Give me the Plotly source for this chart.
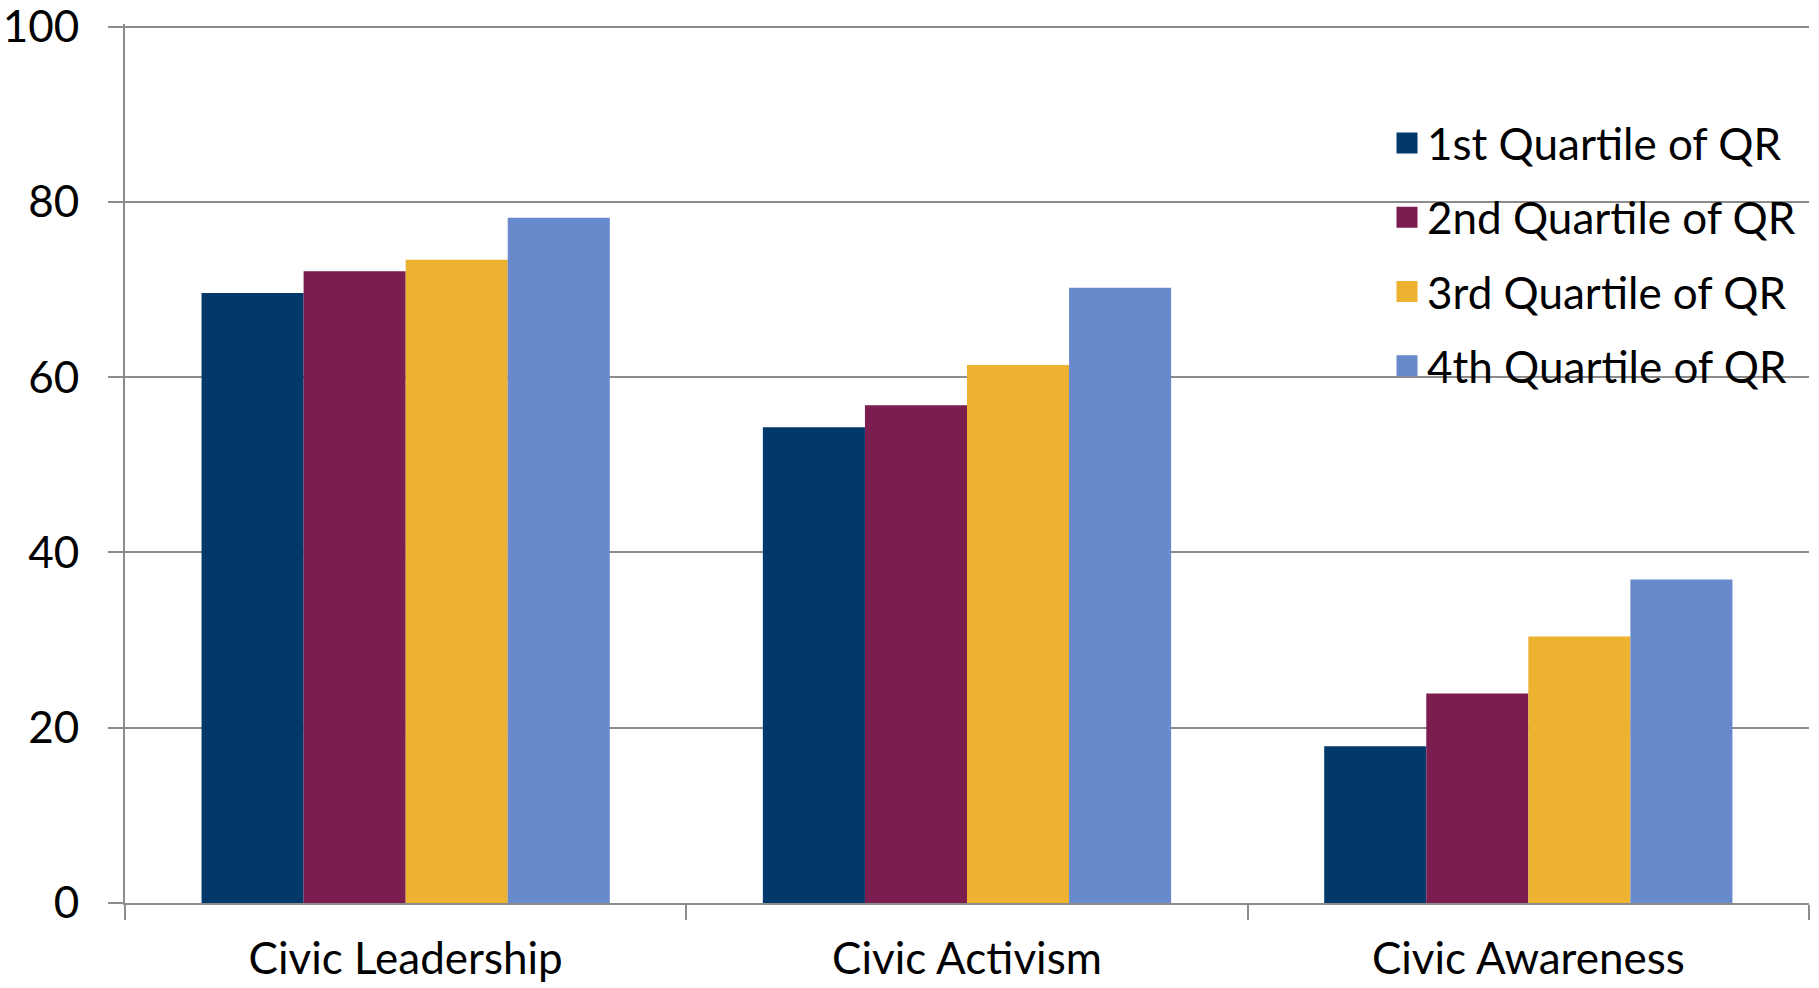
import plotly.graph_objects as go

categories = ["Civic Leadership", "Civic Activism", "Civic Awareness"]
series_names = ["1st Quartile of QR", "2nd Quartile of QR", "3rd Quartile of QR", "4th Quartile of QR"]
q1 = [69.6, 54.3, 17.9]
q2 = [72.1, 56.8, 23.9]
q3 = [73.4, 61.4, 30.4]
q4 = [78.2, 70.2, 36.9]
y_ticks = [0, 20, 40, 60, 80, 100]

colors = ["#03386A", "#7C1D4F", "#EDB22F", "#6889CB"]
series_values = [q1, q2, q3, q4]

FONT = "Lato"
FS = 44
GRID = "#8c8c8c"

fig = go.Figure()
for name, vals, col in zip(series_names, series_values, colors):
    fig.add_trace(go.Bar(x=categories, y=vals, name=name, marker=dict(color=col, line=dict(width=0)),
                         showlegend=False))
for i, (name, col) in enumerate(zip(series_names, colors)):
    fig.add_trace(go.Scatter(x=[None], y=[None], mode="markers", name=name, legendgroup=f"g{i}",
                             marker=dict(symbol="square", size=16, color=col, line=dict(width=5, color=col)),
                             showlegend=True))

W, H = 1819, 988
YMAX = 100.3
L, R, T, B = 125, 10, 24, 85
pw = W - L - R
ph = H - T - B

fig.update_layout(
    width=W, height=H,
    margin=dict(l=L, r=R, t=T, b=B, pad=0, autoexpand=False),
    paper_bgcolor="white", plot_bgcolor="white",
    barmode="group", bargap=0.2727, bargroupgap=0,
    font=dict(family=FONT, size=FS, color="black"),
    legend=dict(
        x=(1387 - L) / pw, y=(H - B - 108) / ph, xanchor="left", yanchor="top",
        bgcolor="rgba(0,0,0,0)", borderwidth=0, itemsizing="trace",
        tracegroupgap=14, font=dict(family=FONT, size=FS, color="black"),
    ),
    xaxis=dict(
        type="category", showline=True, linecolor=GRID, linewidth=2,
        ticks="outside", tickson="boundaries", ticklen=15, tickwidth=2, tickcolor=GRID,
        showgrid=False, tickfont=dict(family=FONT, size=FS, color="black"),
        ticklabelstandoff=16, automargin=False, ticklabeloverflow="allow",
    ),
    yaxis=dict(
        range=[0, YMAX], tickvals=y_ticks, showgrid=True, gridcolor=GRID, gridwidth=2,
        showline=True, linecolor=GRID, linewidth=2, zeroline=False,
        ticks="outside", ticklen=15, tickwidth=2, tickcolor=GRID,
        tickfont=dict(family=FONT, size=FS, color="black"),
        ticklabelstandoff=20, automargin=False, ticklabeloverflow="allow",
    ),
)

fig.write_html("out.html", config={"displayModeBar": False})
